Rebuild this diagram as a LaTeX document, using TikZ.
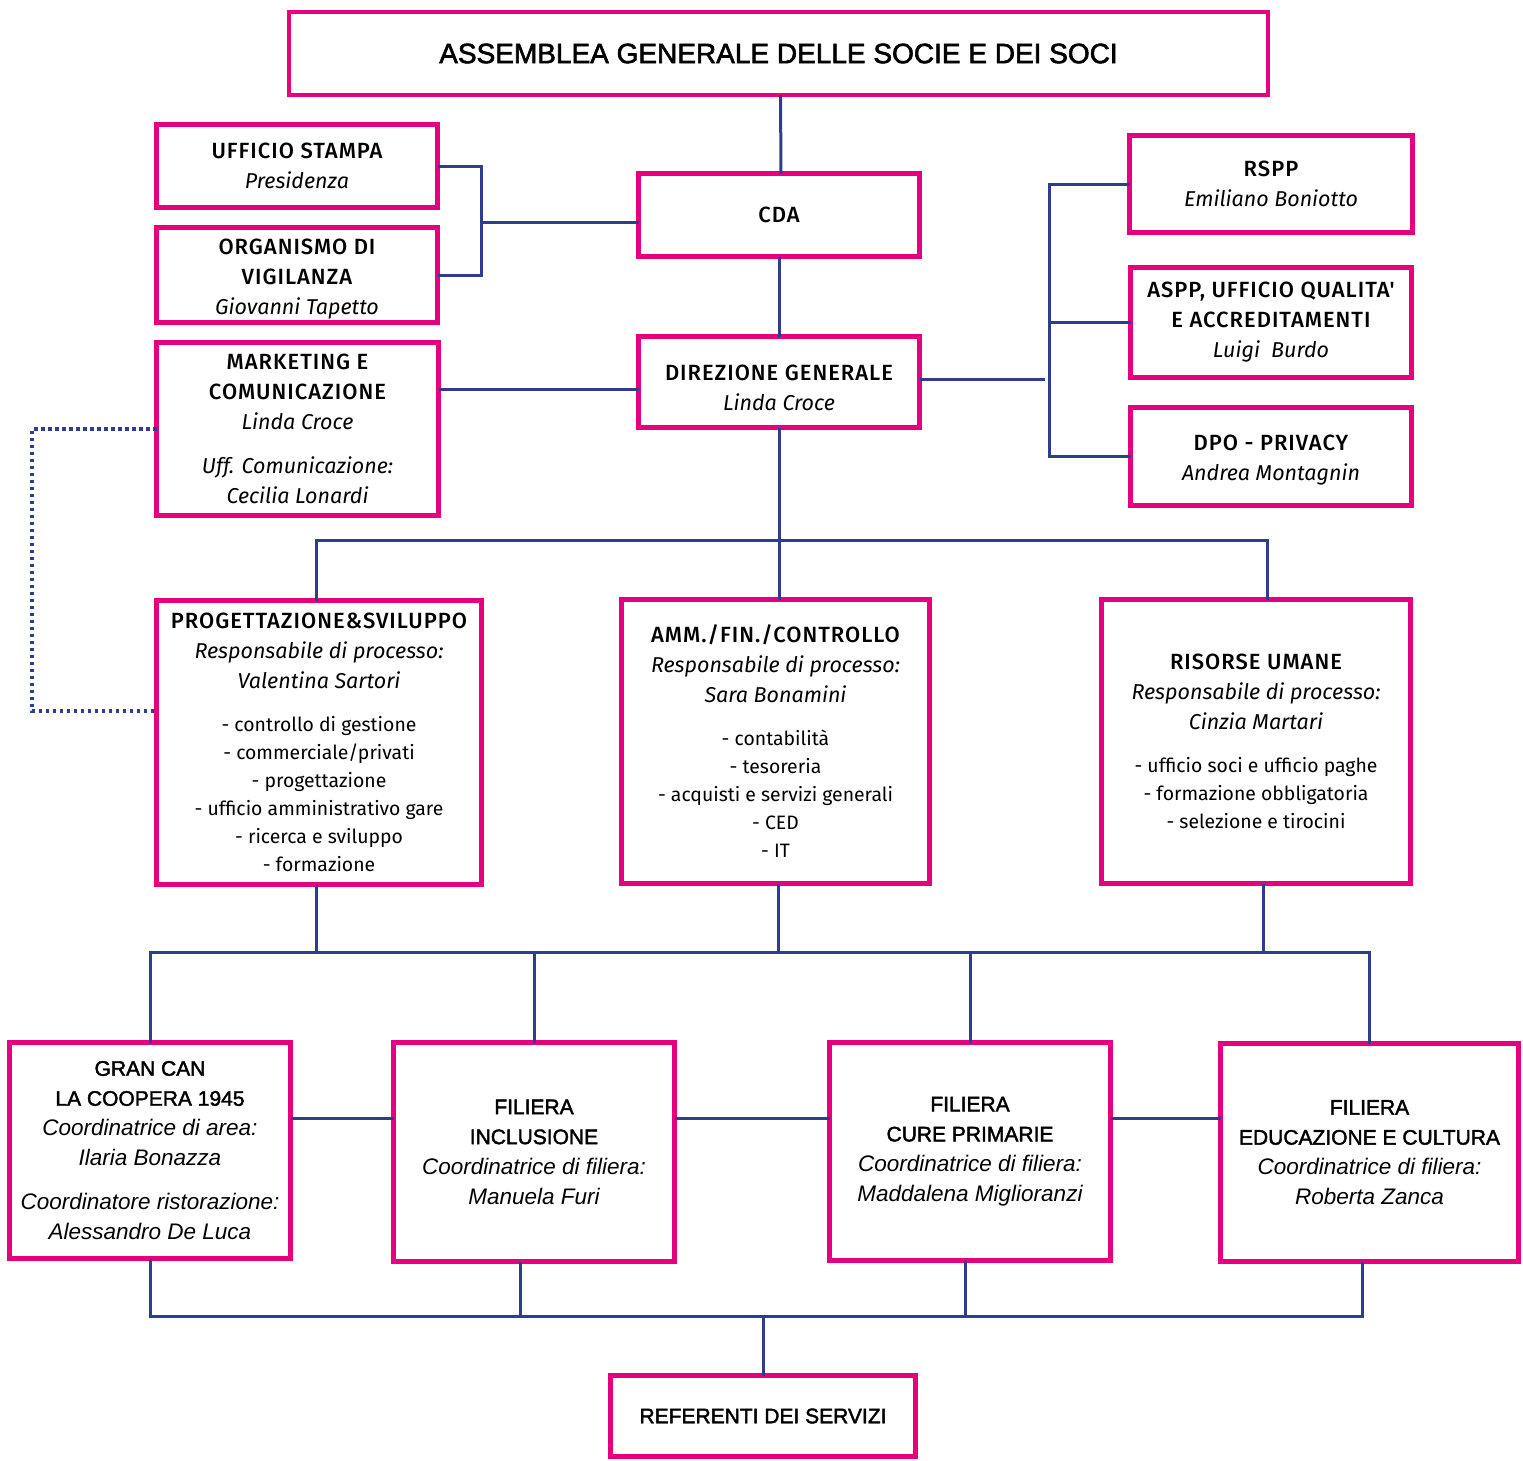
\documentclass[tikz,border=0pt]{standalone}
\usepackage{fontspec}
\setmainfont{Fira Sans}
\newfontfamily\medfont{Fira Sans Medium}[LetterSpace=4.5]
\newfontfamily\arialfont{Liberation Sans}
\newfontfamily\arialhead{Liberation Sans}[UprightFeatures={FakeBold=2}]

\definecolor{rosa}{HTML}{E6007E}
\definecolor{blu}{HTML}{2E3D8E}

% font helpers
\newcommand{\listf}{\fontsize{19.4}{28}\selectfont}
\newcommand{\hd}[1]{{\medfont\fontsize{22}{30}\selectfont #1}}
\newcommand{\ah}[1]{{\arialhead #1}}
\newcommand{\ai}[1]{{\arialfont\itshape\fontsize{22.5}{30}\selectfont #1}}
\newcommand{\pushdown}[1]{\rule{0pt}{#1}}

\tikzset{
  box/.style={draw=rosa, line width=4.5pt, fill=white, inner sep=0pt, outer sep=0pt,
    align=center, font=\fontsize{21.5}{30}\selectfont},
  abox/.style={box, font=\fontsize{21}{30}\selectfont},
  link/.style={draw=blu, line width=3pt},
  dotlink/.style={draw=blu, line width=3.5pt, dash pattern=on 3.5pt off 3.5pt},
}

\begin{document}
\begin{tikzpicture}[x=1pt, y=-1pt]

  \useasboundingbox (0,0) rectangle (1523,1460);

  % top
  \node[box, minimum width=979, minimum height=83] (assemblea) at (778.5,53.5)
    {\arialhead\fontsize{28}{30}\selectfont ASSEMBLEA GENERALE DELLE SOCIE E DEI SOCI};

  \node[box, minimum width=281, minimum height=83] (stampa) at (297,166)
    {\hd{UFFICIO STAMPA}\\ \textit{Presidenza}};
  \node[box, minimum width=281, minimum height=95] (odv) at (297,275)
    {\pushdown{23pt}\hd{ORGANISMO DI}\\ \hd{VIGILANZA}\\ \textit{Giovanni Tapetto}};
  \node[box, minimum width=282, minimum height=173] (marketing) at (297.5,429)
    {\hd{MARKETING E}\\ \hd{COMUNICAZIONE}\\ \textit{Linda Croce}\\[14pt]
     \textit{Uff. Comunicazione:}\\ \textit{Cecilia Lonardi}};

  \node[box, minimum width=281, minimum height=83] (cda) at (779,215) {\hd{CDA}};
  \node[box, minimum width=281, minimum height=91] (dg) at (779,382)
    {\pushdown{27pt}\hd{DIREZIONE GENERALE}\\ \textit{Linda Croce}};

  \node[box, minimum width=283, minimum height=97] (rspp) at (1271,184)
    {\hd{RSPP}\\ \textit{Emiliano Boniotto}};
  \node[box, minimum width=281, minimum height=110] (aspp) at (1271,322.5)
    {\hd{ASPP, UFFICIO QUALITA\textquotesingle}\\ \hd{E ACCREDITAMENTI}\\ \textit{Luigi\ \ Burdo}};
  \node[box, minimum width=281, minimum height=98] (dpo) at (1271,456.5)
    {\pushdown{23pt}\hd{DPO - PRIVACY}\\ \textit{Andrea Montagnin}};

  % processi
  \node[box, minimum width=325, minimum height=284] (prog) at (319,742.5)
    {\hd{PROGETTAZIONE\&SVILUPPO}\\ \textit{Responsabile di processo:}\\ \textit{Valentina Sartori}\\[13pt]
     {\listf - controllo di gestione}\\[-2pt] {\listf - commerciale/privati}\\[-2pt]
     {\listf - progettazione}\\[-2pt] {\listf - ufficio amministrativo gare}\\[-2pt]
     {\listf - ricerca e sviluppo}\\[-2pt] {\listf - formazione}};
  \node[box, minimum width=308, minimum height=284] (amm) at (775.5,741.5)
    {\hd{AMM./FIN./CONTROLLO}\\ \textit{Responsabile di processo:}\\ \textit{Sara Bonamini}\\[13pt]
     {\listf - contabilità}\\[-2pt] {\listf - tesoreria}\\[-2pt]
     {\listf - acquisti e servizi generali}\\[-2pt] {\listf - CED}\\[-2pt] {\listf - IT}};
  \node[box, minimum width=309, minimum height=284] (hr) at (1256,741.5)
    {\hd{RISORSE UMANE}\\ \textit{Responsabile di processo:}\\ \textit{Cinzia Martari}\\[13pt]
     {\listf - ufficio soci e ufficio paghe}\\[-2pt] {\listf - formazione obbligatoria}\\[-2pt]
     {\listf - selezione e tirocini}};

  % filiere
  \node[abox, minimum width=281, minimum height=216] (grancan) at (150,1150.5)
    {\ah{GRAN CAN}\\ \ah{LA COOPERA 1945}\\ \ai{Coordinatrice di area:}\\ \ai{Ilaria Bonazza}\\[14pt]
     \ai{Coordinatore ristorazione:}\\ \ai{Alessandro De Luca}};
  \node[abox, minimum width=281, minimum height=219] (inclusione) at (534,1152)
    {\ah{FILIERA}\\ \ah{INCLUSIONE}\\ \ai{Coordinatrice di filiera:}\\ \ai{Manuela Furi}};
  \node[abox, minimum width=281, minimum height=218] (cure) at (970,1151.5)
    {\ah{FILIERA}\\ \ah{CURE PRIMARIE}\\ \ai{Coordinatrice di filiera:}\\ \ai{Maddalena Miglioranzi}};
  \node[abox, minimum width=298, minimum height=218] (educazione) at (1369.5,1152.5)
    {\ah{FILIERA}\\ \ah{EDUCAZIONE E CULTURA}\\ \ai{Coordinatrice di filiera:}\\ \ai{Roberta Zanca}};

  \node[abox, minimum width=305, minimum height=81] (referenti) at (763,1416)
    {\ah{REFERENTI DEI SERVIZI}};

  % collegamenti
  \coordinate (hb) at (0,540);
  \coordinate (lb) at (0,952);
  \coordinate (sb) at (0,1118);
  \coordinate (bb) at (0,1316);

  \draw[link] ([xshift=2pt]assemblea.south) -- ([xshift=2pt]cda.north);
  \draw[link] (cda.south) -- (dg.north);

  \draw[link] (stampa.east) -- ++(44,0) coordinate (ub) |- (odv.east);
  \draw[link] ([yshift=-7pt]cda.west) -- ([yshift=-7pt]cda.west -| ub);
  \draw[link] ([yshift=-7pt]dg.west) -- ([yshift=-7pt]dg.west -| marketing.east);

  \draw[link] ([yshift=3pt]dg.east) -- ++(125,0);
  \draw[link] (rspp.west) -- ++(-80,0) coordinate (rb) -- (rb |- dpo.west) -- (dpo.west);
  \draw[link] (aspp.west) -- (aspp.west -| rb);

  \draw[link] (dg.south) -- (dg.south |- amm.north);
  \draw[link] ([xshift=-3pt]prog.north) |- ([xshift=11pt]hr.north |- hb) -- ([xshift=11pt]hr.north);

  \draw[dotlink] (marketing.west) -- ++(-124.5,0) |- ([yshift=31.5pt]prog.west);

  \draw[link] ([xshift=-3pt]prog.south) -- ([xshift=-3pt]prog.south |- lb);
  \draw[link] ([xshift=2.5pt]amm.south) -- ([xshift=2.5pt]amm.south |- lb);
  \draw[link] ([xshift=7pt]hr.south) -- ([xshift=7pt]hr.south |- lb);
  \draw[link] (grancan.north) |- (lb -| educazione.north) -- (educazione.north);
  \draw[link] (inclusione.north) -- (inclusione.north |- lb);
  \draw[link] (cure.north) -- (cure.north |- lb);

  \draw[link] (grancan.east |- sb) -- (inclusione.west |- sb);
  \draw[link] (inclusione.east |- sb) -- (cure.west |- sb);
  \draw[link] (cure.east |- sb) -- (educazione.west |- sb);

  \draw[link] (grancan.south) |- ([xshift=-7.5pt]educazione.south |- bb) -- ([xshift=-7.5pt]educazione.south);
  \draw[link] ([xshift=-14pt]inclusione.south) -- ([xshift=-14pt]inclusione.south |- bb);
  \draw[link] ([xshift=-5pt]cure.south) -- ([xshift=-5pt]cure.south |- bb);
  \draw[link] (referenti.north) -- (referenti.north |- bb);

\end{tikzpicture}
\end{document}
